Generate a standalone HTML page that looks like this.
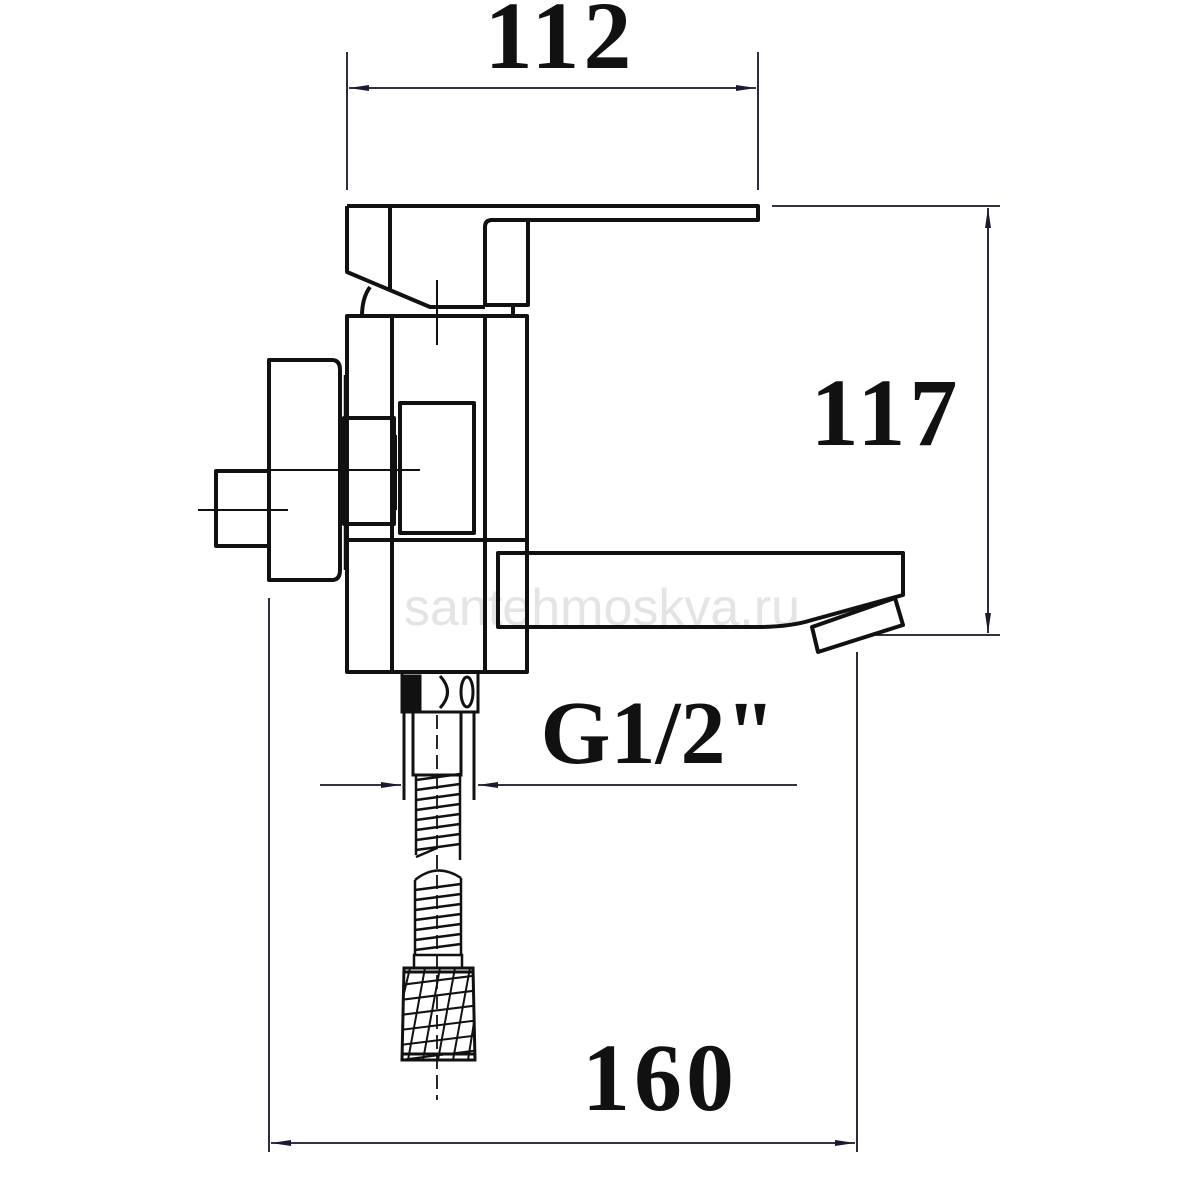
<!DOCTYPE html>
<html><head><meta charset="utf-8"><style>
html,body{margin:0;padding:0;background:#fff;}
svg{display:block;}
text{font-family:"Liberation Serif",serif;font-weight:bold;fill:#111;}
</style></head><body>
<svg width="1200" height="1200" viewBox="0 0 1200 1200" xmlns="http://www.w3.org/2000/svg">
<defs>
<marker id="a" viewBox="0 0 20 8" refX="20" refY="4" markerWidth="20" markerHeight="8" markerUnits="userSpaceOnUse" orient="auto-start-reverse"><path d="M0,1 L20,4 L0,7 Z" fill="#1a1a33"/></marker>
<clipPath id="c"><path d="M404,968 L473,968 L475,1060 L402,1060 Z"/></clipPath>
</defs>
<text x="602" y="625" font-size="52" text-anchor="middle" style="font-family:'Liberation Sans',sans-serif;font-weight:normal;fill:#e4e4e4">santehmoskva.ru</text>
<g fill="none" stroke="#15152a" stroke-width="1.8">
<line x1="347" y1="52" x2="347" y2="190"/>
<line x1="758" y1="52" x2="758" y2="190"/>
<line x1="349" y1="88" x2="756" y2="88" marker-start="url(#a)" marker-end="url(#a)"/>
<line x1="772" y1="206" x2="1000" y2="206"/>
<line x1="870" y1="635" x2="1000" y2="635"/>
<line x1="988" y1="208" x2="988" y2="633" marker-start="url(#a)" marker-end="url(#a)"/>
<line x1="269" y1="598" x2="269" y2="1152"/>
<line x1="857" y1="652" x2="857" y2="1152"/>
<line x1="271" y1="1143" x2="855" y2="1143" marker-start="url(#a)" marker-end="url(#a)"/>
<line x1="320" y1="785" x2="401" y2="785" marker-end="url(#a)"/>
<line x1="797" y1="785" x2="478" y2="785" marker-end="url(#a)"/>
</g>
<g fill="none" stroke="#111" stroke-width="4" stroke-linejoin="round">
<path d="M347,206 L758,206 L758,220 L492,220 Q485,220 485,227 L485,305 L528,305 L528,222"/>
<path d="M347,206 L347,272 L430,307 L485,307"/>
<line x1="390" y1="206" x2="390" y2="290"/>
<path d="M362,316 Q362,298 370,287"/>
<line x1="513" y1="305" x2="513" y2="316"/>
<rect x="347" y="316" width="180" height="356"/>
<line x1="392" y1="316" x2="392" y2="672"/>
<line x1="485" y1="316" x2="485" y2="672"/>
<line x1="347" y1="540" x2="527" y2="540"/>
<rect x="400" y="403" width="74" height="130"/>
<rect x="344" y="418" width="50" height="106"/>
<line x1="395" y1="435" x2="395" y2="510"/>
<path d="M269,360 L332,360 Q340,360 340,370 L340,570 Q340,580 332,580 L269,580 Z"/>
<line x1="345" y1="375" x2="345" y2="570" stroke-width="2.5"/>
<rect x="216" y="471" width="53" height="75"/>
<path d="M527,553 L498,553 L498,627 L757,627 Q790,627 812,620 L903,595 L903,553 Z"/>
<path d="M812,627 L895,598 L903,625 L818,652 Z"/>
</g>
<g stroke="#111" stroke-width="2">
<line x1="250" y1="470" x2="420" y2="470"/>
<line x1="198" y1="510" x2="288" y2="510"/>
<line x1="437" y1="280" x2="437" y2="345"/>
</g>
<g fill="none" stroke="#111" stroke-width="3">
<rect x="402" y="672" width="76" height="40"/>
<rect x="404" y="676" width="16" height="34" fill="#111"/>
<path d="M440,676 Q455,692 440,708"/>
<ellipse cx="467" cy="692" rx="6" ry="15"/>
<line x1="404" y1="712" x2="404" y2="800"/>
<line x1="474" y1="712" x2="474" y2="800"/>
<rect x="413" y="712" width="48" height="63"/>
<line x1="437" y1="715" x2="437" y2="1100" stroke-width="1.8" stroke-dasharray="14,6"/>
<g stroke-width="2.5">
<line x1="416" y1="775" x2="416" y2="855"/><line x1="460" y1="775" x2="460" y2="860"/>
<path d="M416,780 L460,774 M416,790 L460,784 M416,800 L460,794 M416,810 L460,804 M416,820 L460,814 M416,830 L460,824 M416,840 L460,834 M416,850 L460,844 M416,857 L437,848"/>
<line x1="415" y1="880" x2="415" y2="955"/><line x1="461" y1="878" x2="461" y2="955"/>
<path d="M415,880 Q437,862 461,878 M415,890 L461,884 M415,900 L461,894 M415,910 L461,904 M415,920 L461,914 M415,930 L461,924 M415,940 L461,934 M415,950 L461,944"/>
<rect x="414" y="955" width="48" height="13"/>
</g>
<path d="M404,968 L473,968 L475,1060 L402,1060 Z"/>
<line x1="404" y1="972" x2="473" y2="972"/>
<line x1="402" y1="1054" x2="475" y2="1054"/>
<g stroke-width="2" clip-path="url(#c)">
<path d="M400,985 L480,975 M400,1000 L480,990 M400,1015 L480,1005 M400,1030 L480,1020 M400,1045 L480,1035 M400,1060 L480,1050"/>
<path d="M410,968 L400,1010 M425,968 L408,1060 M440,968 L423,1060 M455,968 L438,1060 M470,968 L453,1060 M480,985 L468,1060"/>
</g>
</g>
<text x="560" y="68" font-size="96" text-anchor="middle" letter-spacing="4">112</text>
<text x="886" y="445" font-size="96" text-anchor="middle" letter-spacing="4">117</text>
<text x="660" y="1110" font-size="96" text-anchor="middle" letter-spacing="4">160</text>
<text x="658" y="763" font-size="90" text-anchor="middle">G1/2"</text>
</svg>
</body></html>
